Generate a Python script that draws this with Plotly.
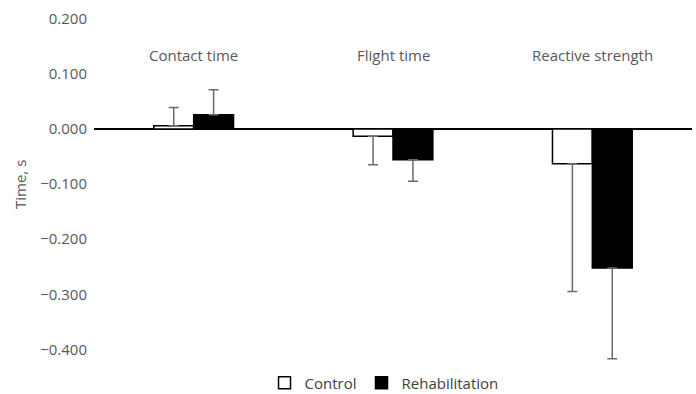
import plotly.graph_objects as go

categories = ["Contact time", "Flight time", "Reactive strength"]
control = [0.006, -0.013, -0.063]
control_err = [0.033, 0.052, 0.232]
rehab = [0.026, -0.056, -0.252]
rehab_err = [0.045, 0.039, 0.165]
series_names = ["Control", "Rehabilitation"]
y_ticks = [0.2, 0.1, 0.0, -0.1, -0.2, -0.3, -0.4]


def split_err(vals, errs):
    up = [e if v >= 0 else 0 for v, e in zip(vals, errs)]
    down = [e if v < 0 else 0 for v, e in zip(vals, errs)]
    return up, down


cu, cd = split_err(control, control_err)
ru, rd = split_err(rehab, rehab_err)

err_style = dict(type="data", symmetric=False, color="#6b6b6b", thickness=1.5, width=5)

L, R, T, B = 94, 4, 16, 28
W, H = 696, 394
ph = H - T - B

fig = go.Figure()
fig.add_trace(go.Bar(
    x=categories, y=control, name=series_names[0],
    marker=dict(color="white", line=dict(color="black", width=1.5)),
    error_y=dict(array=cu, arrayminus=cd, **err_style),
))
fig.add_trace(go.Bar(
    x=categories, y=rehab, name=series_names[1],
    marker=dict(color="black", line=dict(color="black", width=1.5)),
    error_y=dict(array=ru, arrayminus=rd, **err_style),
))

for c in categories:
    fig.add_annotation(x=c, y=0.135, text=c, showarrow=False,
                       font=dict(size=15, color="#595959"), xref="x", yref="y")

fig.add_annotation(xref="paper", yref="paper", text="Time, s",
                   x=(20 - L) / (W - L - R), y=(H - B - 185) / ph,
                   xanchor="center", yanchor="middle",
                   showarrow=False, textangle=-90,
                   font=dict(size=15, color="#595959"))

fig.update_layout(
    width=W, height=H,
    margin=dict(l=L, r=R, t=T, b=B, autoexpand=False),
    plot_bgcolor="white", paper_bgcolor="white",
    font=dict(family="Open Sans, Liberation Sans, sans-serif", color="#595959", size=15),
    barmode="group", bargap=0.6, bargroupgap=0,
    showlegend=True,
    legend=dict(orientation="h", x=0.485, xanchor="center",
                yref="container", y=(H - 383) / H, yanchor="middle",
                font=dict(size=15, color="#404040"), itemwidth=30,
                tracegroupgap=0),
)
fig.update_xaxes(showticklabels=False, showgrid=False, showline=False, ticks="",
                 range=[-0.5, 2.5], zeroline=False)
fig.update_yaxes(range=[-0.43, 0.205], tickvals=y_ticks, tickformat=".3f",
                 showgrid=False, zeroline=True, zerolinecolor="black", zerolinewidth=2,
                 showline=False, ticks="", ticklen=0, automargin=False,
                 ticklabelstandoff=6,
                 tickfont=dict(size=15, color="#595959"))

fig.write_html("out.html", config={"displayModeBar": False},
               post_script="document.body.style.margin='0';document.body.style.overflow='hidden';")
